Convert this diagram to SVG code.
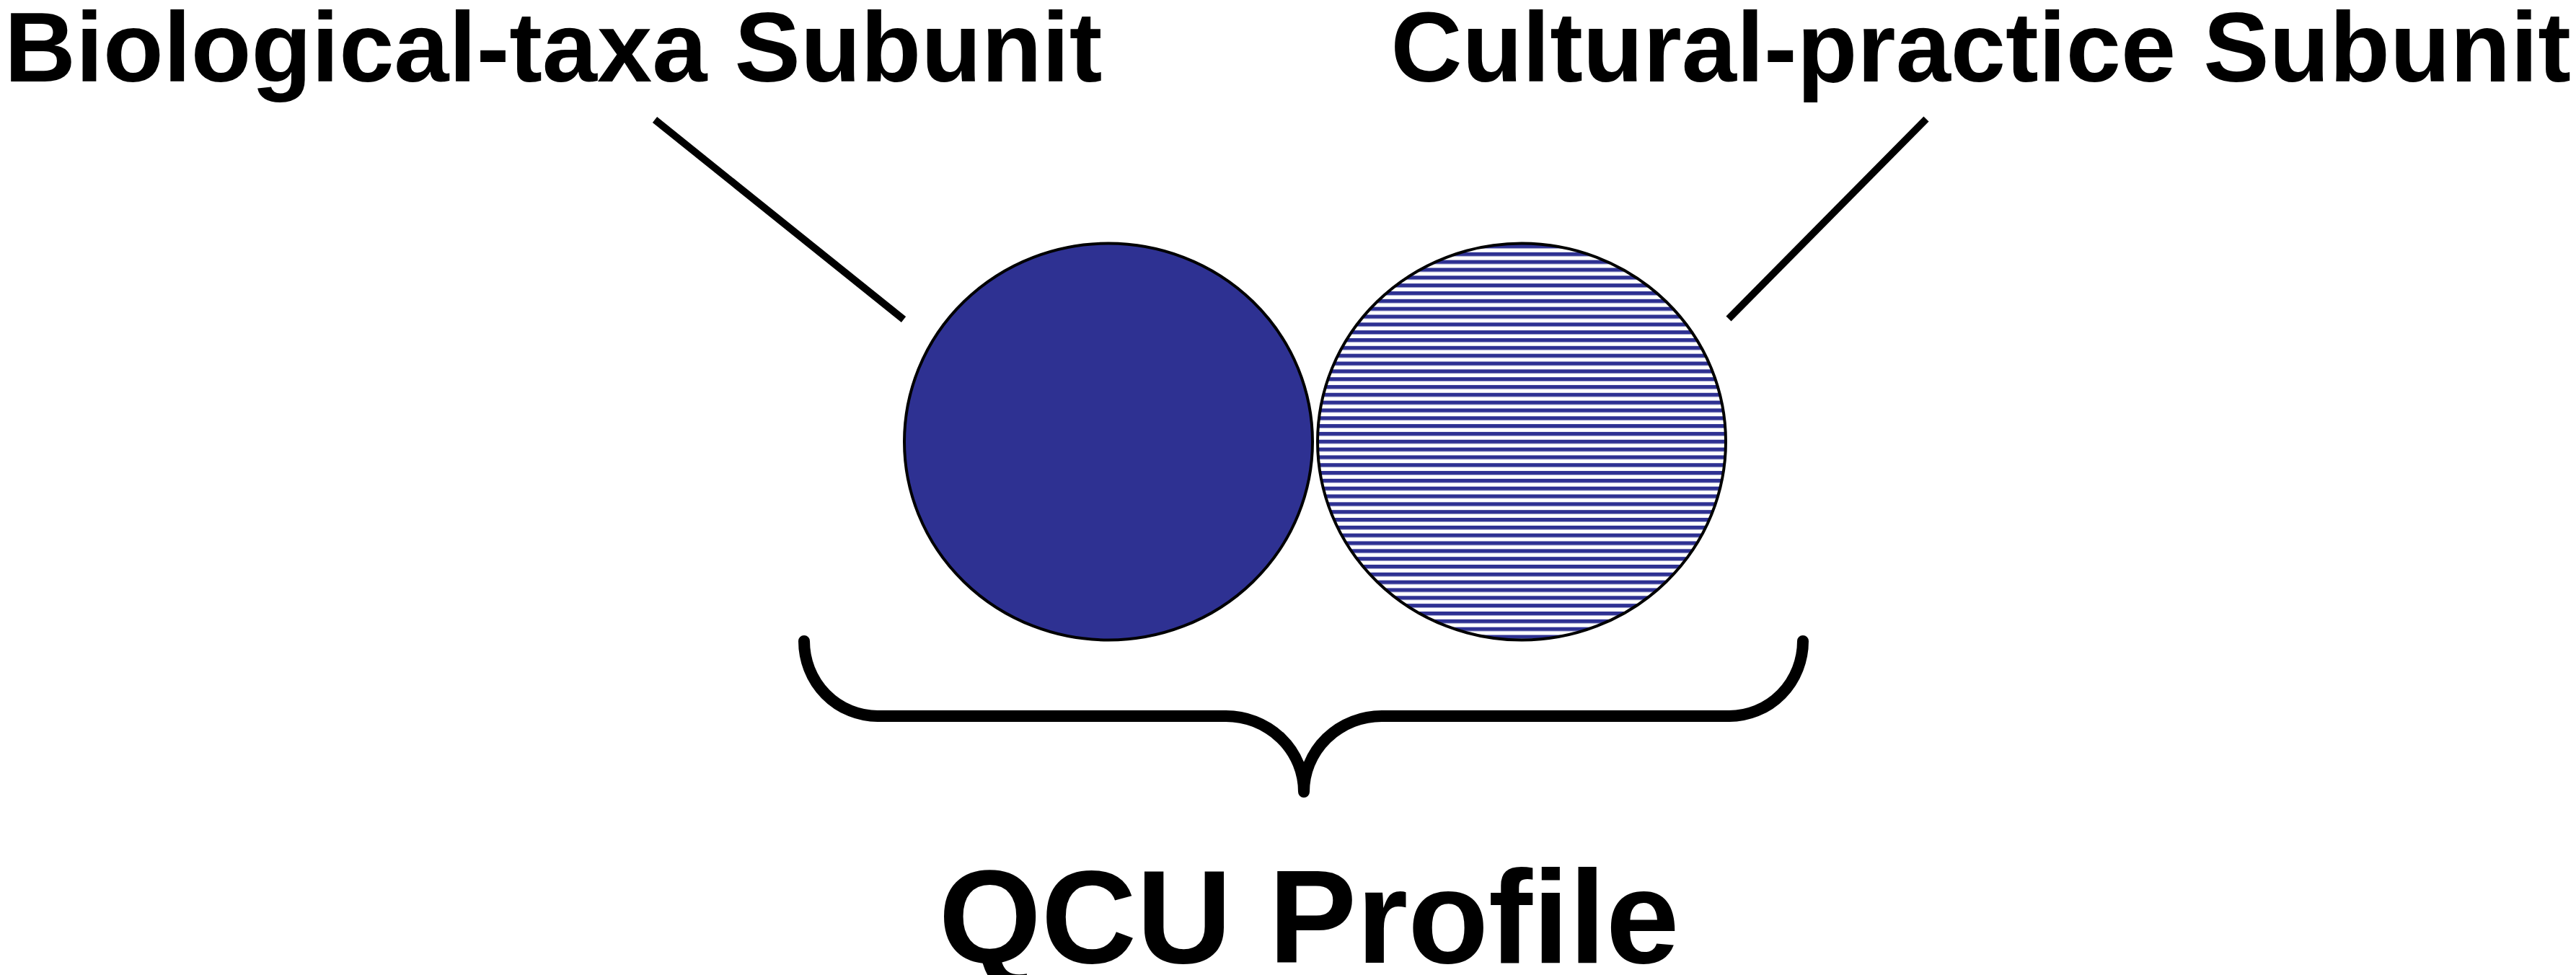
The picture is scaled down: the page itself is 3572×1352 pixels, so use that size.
<svg xmlns="http://www.w3.org/2000/svg" width="3572" height="1352" viewBox="0 0 3572 1352">
  <style>
    .label { font-family: "Liberation Sans", Arial, sans-serif; font-weight: bold; fill: #000000; }
    .unit { stroke: #000000; stroke-width: 4; }
    .connector { stroke: #000000; stroke-width: 10; stroke-linecap: butt; fill: none; }
    .brace { stroke: #000000; stroke-width: 16; fill: none; stroke-linecap: round; stroke-linejoin: round; }
  </style>
  <defs>
    <pattern id="stripes" patternUnits="userSpaceOnUse" x="0" y="382.3" width="20" height="10.83">
      <rect x="0" y="0" width="20" height="10.83" fill="#FFFFFF"/>
      <rect x="0" y="0" width="20" height="5.4" fill="#2E3192"/>
    </pattern>
  </defs>
  <rect x="0" y="0" width="3572" height="1352" fill="#FFFFFF"/>

  <g id="connectors">
    <line class="connector" x1="908" y1="166" x2="1253" y2="443"/>
    <line class="connector" x1="2671" y1="165" x2="2397" y2="442"/>
  </g>

  <g id="biological-taxa-subunit">
    <ellipse class="unit" cx="1537" cy="612.5" rx="283" ry="275" fill="#2E3192"/>
    <text class="label" x="6" y="113" font-size="137">Biological-taxa Subunit</text>
  </g>

  <g id="cultural-practice-subunit">
    <ellipse class="unit" cx="2110" cy="612.5" rx="283" ry="275" fill="url(#stripes)"/>
    <text class="label" x="3565" y="113" font-size="137" text-anchor="end">Cultural-practice Subunit</text>
  </g>

  <g id="qcu-profile">
    <path class="brace" d="M1115,889 A102,104 0 0 0 1217,993 L1700,993 A108,105 0 0 1 1808,1098 A108,105 0 0 1 1916,993 L2398,993 A102,104 0 0 0 2500,889"/>
    <text class="label" x="1815" y="1335" font-size="183" text-anchor="middle">QCU Profile</text>
  </g>
</svg>
